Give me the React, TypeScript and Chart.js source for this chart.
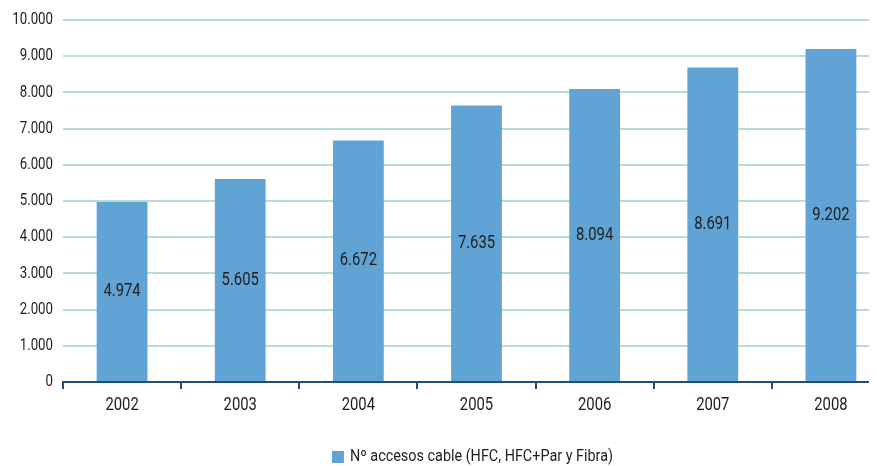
import React, { useEffect, useRef } from "react";
import { Chart, registerables } from "chart.js";

Chart.register(...registerables);

const years = ["2002", "2003", "2004", "2005", "2006", "2007", "2008"];
const accesos = [4974, 5605, 6672, 7635, 8094, 8691, 9202];
const seriesLabel = "Nº accesos cable (HFC, HFC+Par y Fibra)";
const yMin = 0;
const yMax = 10000;
const yStep = 1000;

const FONT = "Roboto, 'Noto Sans', sans-serif";
const SX = 0.78;
const LEGEND_SX = 0.9;
const BAR = "#60a3d4";
const TEXT = "#1e1e1e";
const AXIS = "#1f4e79";

const fmt = (v: number) => {
  const s = Math.round(v).toString();
  return s.replace(/\B(?=(\d{3})+(?!\d))/g, ".");
};

function narrowText(
  ctx: CanvasRenderingContext2D,
  text: string,
  x: number,
  y: number,
  size: number,
  align: CanvasTextAlign,
  sx = SX
) {
  ctx.save();
  ctx.font = `${size}px ${FONT}`;
  ctx.fillStyle = TEXT;
  ctx.textAlign = align;
  ctx.textBaseline = "middle";
  ctx.translate(x, y);
  ctx.scale(sx, 1);
  ctx.fillText(text, 0, 0);
  ctx.restore();
}

const textPlugin = {
  id: "textPlugin",
  afterDraw(chart: any) {
    const ctx = chart.ctx as CanvasRenderingContext2D;
    const area = chart.chartArea;
    const ys = chart.scales.y;
    const xs = chart.scales.x;
    // y tick labels
    ys.ticks.forEach((t: any) => {
      narrowText(ctx, fmt(t.value), area.left - 10, ys.getPixelForValue(t.value), 17, "right");
    });
    // x tick labels
    xs.ticks.forEach((_t: any, i: number) => {
      narrowText(ctx, String(chart.data.labels[i]), xs.getPixelForTick(i), area.bottom + 23, 19, "center");
    });
    // value labels
    const meta = chart.getDatasetMeta(0);
    const ds = chart.data.datasets[0];
    meta.data.forEach((bar: any, i: number) => {
      const { x, y, base } = bar.getProps(["x", "y", "base"], true);
      narrowText(ctx, fmt(ds.data[i]), x, (y + base) / 2, 19, "center");
    });
    // legend
    ctx.save();
    ctx.font = `16px ${FONT}`;
    const tw = ctx.measureText(seriesLabel).width * LEGEND_SX;
    ctx.restore();
    const box = 12;
    const gap = 6;
    const total = box + gap + tw;
    const center = (area.left + area.right) / 2 - 4;
    const startX = center - total / 2;
    const ly = area.bottom + 75;
    ctx.save();
    ctx.fillStyle = BAR;
    ctx.fillRect(startX, ly - box / 2, box, box);
    ctx.restore();
    narrowText(ctx, seriesLabel, startX + box + gap, ly, 16, "left", LEGEND_SX);
  },
};

export default function App() {
  const ref = useRef<HTMLCanvasElement | null>(null);
  useEffect(() => {
    if (!ref.current) return;
    const chart = new Chart(ref.current, {
      type: "bar",
      data: {
        labels: years,
        datasets: [
          {
            label: seriesLabel,
            data: accesos,
            backgroundColor: BAR,
            borderWidth: 0,
            barPercentage: 0.43,
            categoryPercentage: 1,
          },
        ],
      },
      options: {
        responsive: false,
        animation: false,
        layout: { padding: { top: 12, left: 0, right: 0, bottom: 0 } },
        plugins: {
          legend: { display: false },
          tooltip: { enabled: false },
        },
        scales: {
          x: {
            afterFit(scale: any) {
              scale.height = 84;
            },
            grid: {
              offset: true,
              drawOnChartArea: false,
              drawTicks: true,
              tickLength: 7,
              color: AXIS,
              lineWidth: 2,
            },
            border: { display: true, color: AXIS, width: 2 },
            ticks: { display: false },
          },
          y: {
            min: yMin,
            max: yMax,
            afterFit(scale: any) {
              scale.width = 55;
            },
            grid: {
              color: "#b5ddd9",
              lineWidth: 2,
              drawTicks: false,
            },
            border: { display: false },
            ticks: { stepSize: yStep, display: false },
          },
        },
      },
      plugins: [textPlugin],
    });
    return () => chart.destroy();
  }, []);
  return (
    <div style={{ width: 869, height: 458, overflow: "hidden" }}>
      <canvas ref={ref} width={882} height={458} />
    </div>
  );
}
